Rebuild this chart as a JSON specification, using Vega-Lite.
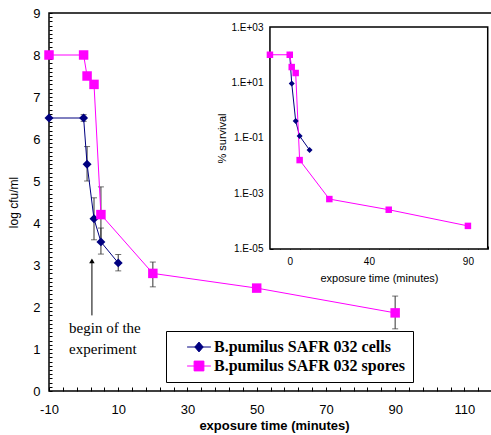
{
  "$schema": "https://vega.github.io/schema/vega-lite/v6.json",
  "width": 450,
  "height": 378,
  "autosize": {"type": "none"},
  "padding": {"left": 49, "top": 13, "right": 0, "bottom": 44},
  "config": {
    "font": "Liberation Sans",
    "view": {"stroke": "black", "strokeWidth": 1.5},
    "axis": {"grid": false, "ticks": true, "tickWidth": 1, "tickOpacity": 1, "domain": false, "tickColor": "black", "labelColor": "black", "titleColor": "black", "labelOverlap": false, "zindex": 1}
  },
  "datasets": {
    "main": [
      {"series": "B.pumilus SAFR 032 cells", "t": -10, "v": 6.5},
      {"series": "B.pumilus SAFR 032 cells", "t": 0, "v": 6.5},
      {"series": "B.pumilus SAFR 032 cells", "t": 1, "v": 5.4},
      {"series": "B.pumilus SAFR 032 cells", "t": 3, "v": 4.1},
      {"series": "B.pumilus SAFR 032 cells", "t": 5, "v": 3.55},
      {"series": "B.pumilus SAFR 032 cells", "t": 10, "v": 3.05},
      {"series": "B.pumilus SAFR 032 spores", "t": -10, "v": 8.0},
      {"series": "B.pumilus SAFR 032 spores", "t": 0, "v": 8.0},
      {"series": "B.pumilus SAFR 032 spores", "t": 1, "v": 7.5},
      {"series": "B.pumilus SAFR 032 spores", "t": 3, "v": 7.3},
      {"series": "B.pumilus SAFR 032 spores", "t": 5, "v": 4.2},
      {"series": "B.pumilus SAFR 032 spores", "t": 20, "v": 2.8},
      {"series": "B.pumilus SAFR 032 spores", "t": 50, "v": 2.45},
      {"series": "B.pumilus SAFR 032 spores", "t": 90, "v": 1.86}
    ],
    "err": [
      {"t": 0, "lo": 6.42, "hi": 6.58},
      {"t": 1, "lo": 5.0, "hi": 5.82},
      {"t": 3, "lo": 3.6, "hi": 4.6},
      {"t": 5, "lo": 3.26, "hi": 3.88},
      {"t": 10, "lo": 2.86, "hi": 3.25},
      {"t": 5, "lo": 3.55, "hi": 4.86},
      {"t": 20, "lo": 2.48, "hi": 3.07},
      {"t": 50, "lo": 2.38, "hi": 2.52},
      {"t": 90, "lo": 1.48, "hi": 2.26}
    ],
    "inset": [
      {"series": "B.pumilus SAFR 032 cells", "t": 0, "pct": 100},
      {"series": "B.pumilus SAFR 032 cells", "t": 1, "pct": 9.3},
      {"series": "B.pumilus SAFR 032 cells", "t": 3, "pct": 0.41},
      {"series": "B.pumilus SAFR 032 cells", "t": 5, "pct": 0.118},
      {"series": "B.pumilus SAFR 032 cells", "t": 10, "pct": 0.037},
      {"series": "B.pumilus SAFR 032 spores", "t": -10, "pct": 100},
      {"series": "B.pumilus SAFR 032 spores", "t": 0, "pct": 100},
      {"series": "B.pumilus SAFR 032 spores", "t": 1, "pct": 36},
      {"series": "B.pumilus SAFR 032 spores", "t": 3, "pct": 22},
      {"series": "B.pumilus SAFR 032 spores", "t": 5, "pct": 0.016},
      {"series": "B.pumilus SAFR 032 spores", "t": 20, "pct": 0.00063},
      {"series": "B.pumilus SAFR 032 spores", "t": 50, "pct": 0.00026},
      {"series": "B.pumilus SAFR 032 spores", "t": 90, "pct": 0.000068}
    ],
    "note": [
      {"t": -4.2, "v": 1.5, "label": "begin of the"},
      {"t": -4.2, "v": 1.0, "label": "experiment"}
    ],
    "arrow": [
      {"t": 2.4, "from": 1.8, "to": 3.1}
    ]
  },
  "layer": [
    {
      "layer": [
        {
          "data": {"name": "err"},
          "mark": {"type": "errorbar", "ticks": {"size": 6, "color": "#333333"}, "rule": {"color": "#333333", "strokeWidth": 1}},
          "encoding": {
            "x": {"field": "t", "type": "quantitative", "title": "exposure time (minutes)",
              "scale": {"domain": [-10, 120], "nice": false, "zero": false},
              "axis": {
                "values": [-10,-6,-2,2,6,10,14,18,22,26,30,34,38,42,46,50,54,58,62,66,70,74,78,82,86,90,94,98,102,106,110,114,118],
                "tickCount": 1000, "labelOverlap": false, "offset": -4,
                "labelExpr": "(datum.value+10)%20==0 ? ''+datum.value : ''",
                "tickSize": 4, "labelPadding": 12, "labelFontSize": 13, "labelFlush": false,
                "titleFontSize": 13, "titleFontWeight": "bold", "titlePadding": 3
              }},
            "y": {"field": "lo", "type": "quantitative", "title": "log cfu/ml",
              "scale": {"domain": [0, 9], "nice": false, "zero": false},
              "axis": {
                "values": [0,0.1,0.2,0.3,0.4,0.5,0.6,0.7,0.8,0.9,1,1.1,1.2,1.3,1.4,1.5,1.6,1.7,1.8,1.9,2,2.1,2.2,2.3,2.4,2.5,2.6,2.7,2.8,2.9,3,3.1,3.2,3.3,3.4,3.5,3.6,3.7,3.8,3.9,4,4.1,4.2,4.3,4.4,4.5,4.6,4.7,4.8,4.9,5,5.1,5.2,5.3,5.4,5.5,5.6,5.7,5.8,5.9,6,6.1,6.2,6.3,6.4,6.5,6.6,6.7,6.8,6.9,7,7.1,7.2,7.3,7.4,7.5,7.6,7.7,7.8,7.9,8,8.1,8.2,8.3,8.4,8.5,8.6,8.7,8.8,8.9,9],
                "tickCount": 1000, "labelOverlap": false, "offset": -3,
                "labelExpr": "abs(datum.value-round(datum.value))<0.01 ? ''+round(datum.value) : ''",
                "tickSize": 3, "labelPadding": 9, "labelFontSize": 13, "labelFlush": false,
                "titleFontSize": 12, "titleFontWeight": "normal", "titlePadding": 12
              }},
            "y2": {"field": "hi"}
          }
        },
        {
          "data": {"name": "main"},
          "mark": {"type": "line", "strokeWidth": 1},
          "encoding": {
            "x": {"field": "t", "type": "quantitative", "title": "exposure time (minutes)"},
            "y": {"field": "v", "type": "quantitative", "title": "log cfu/ml"},
            "color": {"field": "series", "type": "nominal",
              "scale": {"domain": ["B.pumilus SAFR 032 cells", "B.pumilus SAFR 032 spores"], "range": ["#000080", "#ff00ff"]}}
          }
        },
        {
          "data": {"name": "main"},
          "transform": [{"filter": "datum.series == 'B.pumilus SAFR 032 cells'"}],
          "mark": {"type": "point", "shape": "diamond", "filled": true, "opacity": 1, "size": 80},
          "encoding": {
            "x": {"field": "t", "type": "quantitative", "title": "exposure time (minutes)"},
            "y": {"field": "v", "type": "quantitative", "title": "log cfu/ml"},
            "color": {"field": "series", "type": "nominal"}
          }
        },
        {
          "data": {"name": "main"},
          "transform": [{"filter": "datum.series == 'B.pumilus SAFR 032 spores'"}],
          "mark": {"type": "point", "shape": "square", "filled": true, "opacity": 1, "size": 90},
          "encoding": {
            "x": {"field": "t", "type": "quantitative", "title": "exposure time (minutes)"},
            "y": {"field": "v", "type": "quantitative", "title": "log cfu/ml"},
            "color": {"field": "series", "type": "nominal"}
          }
        },
        {
          "data": {"name": "main"},
          "transform": [{"filter": "false"}],
          "mark": {"type": "point", "filled": true, "opacity": 1},
          "encoding": {
            "x": {"field": "t", "type": "quantitative", "title": "exposure time (minutes)"},
            "y": {"field": "v", "type": "quantitative", "title": "log cfu/ml"},
            "color": {"field": "series", "type": "nominal",
              "legend": {
                "title": null, "orient": "none", "legendX": 117, "legendY": 318,
                "strokeColor": "black", "fillColor": "white", "padding": 8,
                "labelFont": "Liberation Serif", "labelFontSize": 16, "labelFontWeight": "bold", "labelColor": "black",
                "symbolSize": 196, "symbolOffset": 17, "labelOffset": 7, "rowPadding": 3, "labelLimit": 400,
                "symbolStrokeWidth": 1, "symbolOpacity": 1
              }},
            "shape": {"field": "series", "type": "nominal",
              "scale": {"domain": ["B.pumilus SAFR 032 cells", "B.pumilus SAFR 032 spores"],
                "range": ["M-1.7,0H1.7M0,-0.7L0.6,0L0,0.7L-0.6,0Z", "M-1.7,0H1.7M-0.7,-0.7H0.7V0.7H-0.7Z"]}}
          }
        },
        {
          "data": {"name": "arrow"},
          "mark": {"type": "rule", "color": "black", "strokeWidth": 1},
          "encoding": {
            "x": {"field": "t", "type": "quantitative", "title": "exposure time (minutes)"},
            "y": {"field": "from", "type": "quantitative", "title": "log cfu/ml"},
            "y2": {"field": "to"}
          }
        },
        {
          "data": {"name": "arrow"},
          "mark": {"type": "point", "shape": "triangle-up", "filled": true, "color": "black", "size": 30, "opacity": 1},
          "encoding": {
            "x": {"field": "t", "type": "quantitative", "title": "exposure time (minutes)"},
            "y": {"field": "to", "type": "quantitative", "title": "log cfu/ml"}
          }
        },
        {
          "data": {"name": "note"},
          "mark": {"type": "text", "align": "left", "baseline": "middle", "font": "Liberation Serif", "fontSize": 15, "color": "black"},
          "encoding": {
            "x": {"field": "t", "type": "quantitative", "title": "exposure time (minutes)"},
            "y": {"field": "v", "type": "quantitative", "title": "log cfu/ml"},
            "text": {"field": "label"}
          }
        }
      ]
    },
    {
      "layer": [
        {
          "data": {"values": [{}]},
          "mark": {"type": "rect", "fill": "white", "stroke": "black", "strokeWidth": 1.5},
          "encoding": {
            "x": {"datum": -10, "type": "quantitative", "title": "exposure time (minutes)",
              "scale": {"domain": [-121.6, 105.7], "nice": false, "zero": false},
              "axis": {
                "orient": "bottom", "offset": -145, "domain": false,
                "values": [-10,-5,0,5,10,15,20,25,30,35,40,45,50,55,60,65,70,75,80,85,90,95,100],
                "tickCount": 1000, "labelOverlap": false,
                "labelExpr": "(datum.value==0||datum.value==40||datum.value==90) ? ''+datum.value : ''",
                "tickSize": 3, "labelPadding": 7, "labelFontSize": 10, "labelFlush": false,
                "titleFontSize": 11, "titleFontWeight": "normal", "titleX": 330, "titlePadding": 6
              }},
            "x2": {"datum": 100},
            "y": {"datum": 0.00001, "type": "quantitative", "title": "% survival",
              "scale": {"type": "log", "domain": [7.63e-11, 3196], "nice": false},
              "axis": {
                "orient": "left", "offset": -224, "domain": false,
                "values": [1e-5,2e-5,3e-5,4e-5,5e-5,6e-5,7e-5,8e-5,9e-5,1e-4,2e-4,3e-4,4e-4,5e-4,6e-4,7e-4,8e-4,9e-4,1e-3,2e-3,3e-3,4e-3,5e-3,6e-3,7e-3,8e-3,9e-3,1e-2,2e-2,3e-2,4e-2,5e-2,6e-2,7e-2,8e-2,9e-2,0.1,0.2,0.3,0.4,0.5,0.6,0.7,0.8,0.9,1,2,3,4,5,6,7,8,9,10,20,30,40,50,60,70,80,90,100,200,300,400,500,600,700,800,900,1000],
                "tickCount": 1000, "labelOverlap": false,
                "labelExpr": "(abs(log(datum.value)/LN10 - round(log(datum.value)/LN10)) < 0.001 && abs(round(log(datum.value)/LN10)) % 2 == 1) ? '1.E' + (datum.value >= 1 ? '+' : '-') + '0' + abs(round(log(datum.value)/LN10)) : ''",
                "tickSize": 3, "labelPadding": 7, "labelFontSize": 10, "labelFlush": false,
                "titleFontSize": 11, "titleFontWeight": "normal", "titleY": 125, "titlePadding": 4
              }},
            "y2": {"datum": 1000}
          }
        },
        {
          "data": {"name": "inset"},
          "mark": {"type": "line", "strokeWidth": 1},
          "encoding": {
            "x": {"field": "t", "type": "quantitative", "title": "exposure time (minutes)"},
            "y": {"field": "pct", "type": "quantitative", "title": "% survival"},
            "color": {"field": "series", "type": "nominal"}
          }
        },
        {
          "data": {"name": "inset"},
          "transform": [{"filter": "datum.series == 'B.pumilus SAFR 032 cells'"}],
          "mark": {"type": "point", "shape": "diamond", "filled": true, "opacity": 1, "size": 36},
          "encoding": {
            "x": {"field": "t", "type": "quantitative", "title": "exposure time (minutes)"},
            "y": {"field": "pct", "type": "quantitative", "title": "% survival"},
            "color": {"field": "series", "type": "nominal"}
          }
        },
        {
          "data": {"name": "inset"},
          "transform": [{"filter": "datum.series == 'B.pumilus SAFR 032 spores'"}],
          "mark": {"type": "point", "shape": "square", "filled": true, "opacity": 1, "size": 42},
          "encoding": {
            "x": {"field": "t", "type": "quantitative", "title": "exposure time (minutes)"},
            "y": {"field": "pct", "type": "quantitative", "title": "% survival"},
            "color": {"field": "series", "type": "nominal"}
          }
        }
      ]
    }
  ],
  "resolve": {"scale": {"x": "independent", "y": "independent"}}
}
